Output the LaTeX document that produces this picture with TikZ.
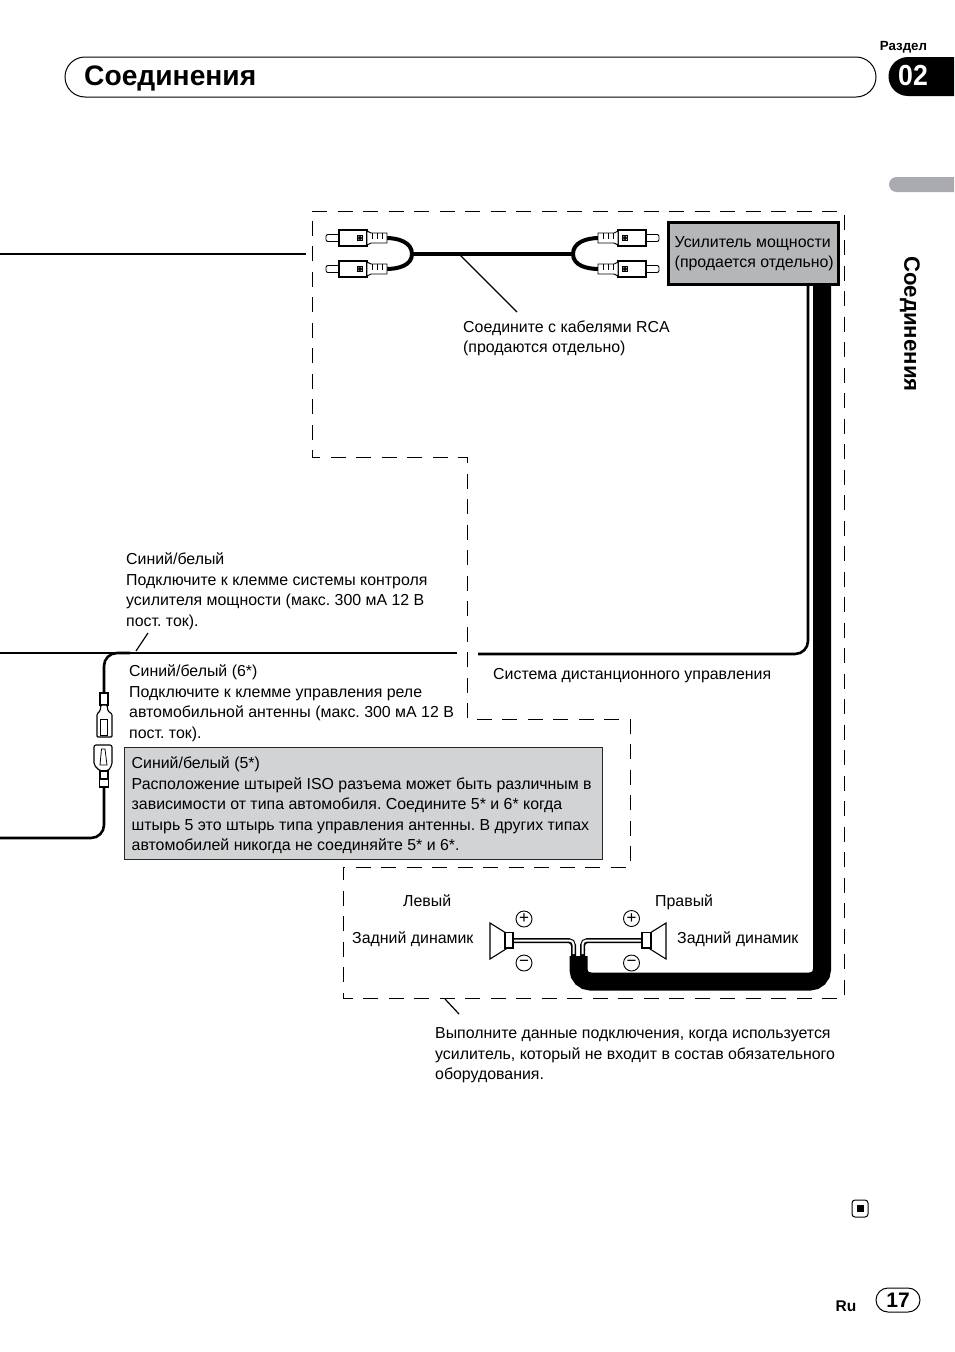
\documentclass[tikz,border=0pt]{standalone}
\usepackage{fontspec}
\setmainfont{Liberation Sans}
\usetikzlibrary{positioning}
\definecolor{ampgray}{HTML}{B5B6B8}
\definecolor{notegray}{HTML}{D1D3D4}
\definecolor{tabgray}{HTML}{A9ABAE}
\tikzset{
  label/.style={anchor=north west,inner sep=0pt,align=left,font=\frenchspacing\fontsize{15.9}{20.6}\selectfont},
  border/.style={line width=.95pt,dash pattern=on 15pt off 10.5pt},
  wire/.style={line width=2.6pt,rounded corners=13pt},
  callout/.style={line width=1.2pt},
  polarity/.style={circle,draw,line width=.9pt,minimum size=16pt,inner sep=0pt,font=\fontsize{17}{17}\selectfont},
}
% one RCA plug, pin pointing to the left of its own origin
\newcommand{\rcaplug}[3]{%
\begin{scope}[shift={(#1,#2)},xscale=#3]
\draw[line width=.9pt,fill=white,rounded corners=2pt] (0,-3.5) rectangle (15,3.5);
\draw[line width=1.2pt,fill=white] (13,-8) rectangle (41,8);
\fill (31,-3) rectangle (37,3);
\foreach \xx in {32.8,35.2} \foreach \yy in {-1.2,1.2} \fill[white] (\xx,\yy) circle (.6pt);
\draw[line width=.9pt,fill=white] (41,-7) -- (45,-5) -- (61,-5) -- (61,5) -- (45,5) -- (41,7) -- cycle;
\foreach \xx in {46,51,56} \draw[line width=.7pt] (\xx,-5) -- (\xx,1);
\end{scope}}
\begin{document}
\begin{tikzpicture}[x=1pt,y=-1pt]
\useasboundingbox (0,0) rectangle (954,1352);
% page furniture
\draw[line width=1pt] (65,57) [rounded corners=20pt] rectangle (876,97);
\node[anchor=west,inner sep=0pt,font=\fontsize{28.2}{30}\bfseries\selectfont] (title) at (84,78) {Соединения};
\fill (954,57) -- (908,57) arc[start angle=90,end angle=270,radius=19.5pt] -- (954,96) -- cycle;
\node[anchor=center,inner sep=0pt,text=white,xscale=.92,font=\fontsize{29}{30}\bfseries\selectfont] (secnum) at (913,76) {02};
\node[inner sep=0pt,font=\fontsize{13.3}{14}\bfseries\selectfont] (sec) at (903.5,47) {Раздел};
\fill[tabgray] (954,177) -- (896.5,177) arc[start angle=90,end angle=270,radius=7.5pt] -- (954,192) -- cycle;
\node[rotate=-90,inner sep=0pt,font=\fontsize{22.2}{23}\bfseries\selectfont] (side) at (910,324) {Соединения};
\draw[line width=1pt,rounded corners=3pt] (852,1200) rectangle (868,1217);
\fill (856.5,1204.5) rectangle (863.5,1212);
\node[inner sep=0pt,font=\fontsize{15.5}{16}\bfseries\selectfont] (lang) at (846,1306.5) {Ru};
\draw[line width=1pt] (876,1288) [rounded corners=12pt] rectangle (920,1312);
\node[inner sep=0pt,font=\fontsize{21}{22}\bfseries\selectfont] (page) at (898,1300) {17};
% dashed outline
\draw[border] (312,211) -- (844,211) -- (844,998) -- (343,998) -- (343,867) -- (630,867) -- (630,719) -- (467,719) -- (467,457) -- (312,457) -- cycle;
% amplifier and its cables
\coordinate (forkl) at (412,254);
\coordinate (forkr) at (573,254);
\draw[line width=1.2pt] (0,254) -- (306,254);
\draw[line width=4pt] (forkl) -- (forkr);
\draw[line width=4pt] (386,238) to[out=0,in=90] (forkl) to[out=-90,in=0] (386,269);
\draw[line width=4pt] (599,238) to[out=180,in=90] (forkr) to[out=-90,in=180] (599,269);
\rcaplug{326}{238}{1}
\rcaplug{326}{269}{1}
\rcaplug{659}{238}{-1}
\rcaplug{659}{269}{-1}
\coordinate (thick) at (822,285);
\coordinate (blob) at (578.5,956);
\draw[line width=18pt,rounded corners=12pt] (thick) -- (822,981.5) -- (578.5,981.5) -- (blob);
\draw[wire] (808,285) -- (808,654) -- (478,654);
\node[draw,fill=ampgray,line width=3pt,minimum width=170pt,minimum height=62pt,anchor=north west,inner sep=0pt] (amp) at (667,221) {};
\node[label] (amptext) at (674.5,236) {Усилитель мощности\\(продается отдельно)};
\draw[callout] (459,254) -- (517,312);
\node[label] (rca) at (463,320.5) {Соедините с кабелями RCA\\(продаются отдельно)};
% blue/white leads
\draw[wire] (0,653) -- (457,653);
\coordinate (isotop) at (104,695);
\coordinate (isobot) at (104,786);
\draw[wire] (isotop) -- (104,653) -- (130,653);
\draw[wire] (isobot) -- (104,838) -- (0,838);
\draw[line width=1.1pt,fill=white] (100,693) rectangle (108,705);
\draw[line width=1.1pt,fill=white,rounded corners=1pt] (101,705) -- (100,711) -- (97,714) -- (97,737) -- (112,737) -- (112,714) -- (108,711) -- (107,705) -- cycle;
\draw[line width=.8pt] (100.5,719) rectangle (107.5,735);
\draw[line width=1.1pt,fill=white,rounded corners=2pt] (94,745) -- (112,745) -- (112,765) -- (108,771) -- (100,771) -- (94,765) -- cycle;
\draw[line width=.8pt,fill=white] (101.5,749) -- (105,749) -- (107,765) -- (100,765) -- cycle;
\draw[line width=1.1pt,fill=white] (100,771) rectangle (108,779);
\draw[line width=1.1pt,fill=white] (99.5,779) rectangle (108.5,787);
\draw[callout] (136,651) -- (148,633);
\node[label] (amplead) at (126,552.5) {Синий/белый\\Подключите к клемме системы контроля\\усилителя мощности (макс. 300 мА 12 В\\пост. ток).};
\node[label] (antlead) at (129,664.5) {Синий/белый (6*)\\Подключите к клемме управления реле\\автомобильной антенны (макс. 300 мА 12 В\\пост. ток).};
\node[label] (remote) at (493,668.5) {Система дистанционного управления};
\node[draw=black!85,fill=notegray,line width=1.4pt,minimum width=478pt,minimum height=112pt,anchor=north west,inner sep=0pt] (note) at (124,747) {};
\node[label] (notetext) at (131.5,756.5) {Синий/белый (5*)\\Расположение штырей ISO разъема может быть различным в\\зависимости от типа автомобиля. Соедините 5* и 6* когда\\штырь 5 это штырь типа управления антенны. В других типах\\автомобилей никогда не соединяйте 5* и 6*.};
% rear speakers
\draw[line width=5pt,rounded corners=5pt] (513,940.5) -- (573.5,940.5) -- (573.5,958);
\draw[line width=5pt,rounded corners=5pt] (642,940.5) -- (582.5,940.5) -- (582.5,958);
\draw[line width=2pt,white,rounded corners=4pt] (513,940.5) -- (573.5,940.5) -- (573.5,954);
\draw[line width=2pt,white,rounded corners=4pt] (642,940.5) -- (582.5,940.5) -- (582.5,954);
\draw[line width=1.1pt,fill=white] (490,923) -- (506,933) -- (506,949) -- (490,959) -- cycle;
\draw[line width=1.1pt,fill=white] (505,932.5) rectangle (513,948);
\draw[line width=1.1pt,fill=white] (666,923) -- (650,933) -- (650,949) -- (666,959) -- cycle;
\draw[line width=1.1pt,fill=white] (642,932.5) rectangle (651,948);
\node[polarity] (lplus) at (524,919) {+};
\node[polarity] (lminus) at (524,963) {−};
\node[polarity] (rplus) at (631.5,918.5) {+};
\node[polarity] (rminus) at (631.5,963) {−};
\node[label] (left) at (403,894) {Левый};
\node[label] (right) at (655,894) {Правый};
\node[label] (lspk) at (352,931) {Задний динамик};
\node[label] (rspk) at (677,931) {Задний динамик};
\draw[callout] (445,999) -- (459,1014);
\node[label] (usage) at (435,1027.5) {Выполните данные подключения, когда используется\\усилитель, который не входит в состав обязательного\\оборудования.};
\end{tikzpicture}
\end{document}
